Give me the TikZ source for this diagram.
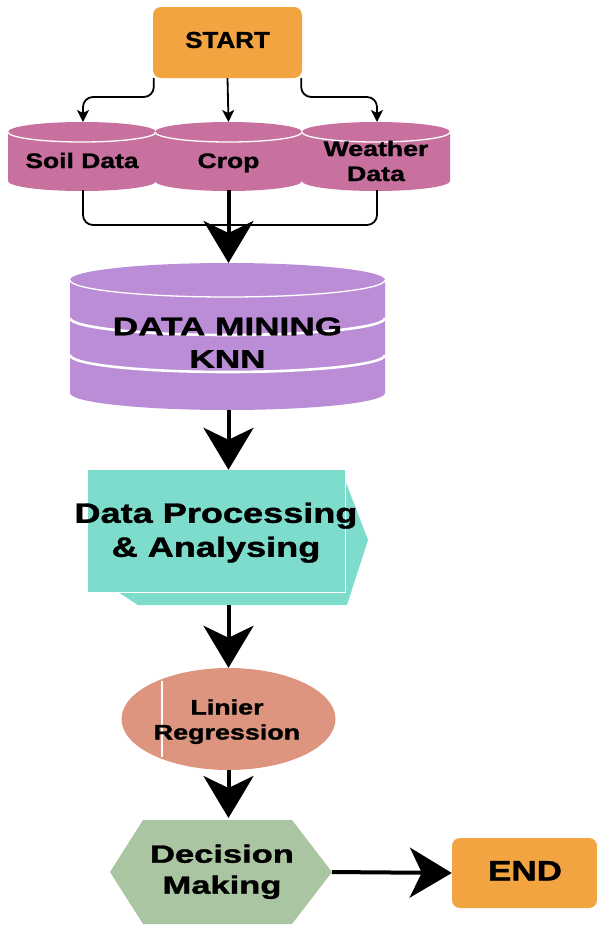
\documentclass[tikz,border=0pt]{standalone}
\usepackage{fontspec}
\setmainfont{Liberation Sans}[BoldFeatures={FakeBold=1.2}]
\usepackage{graphicx}
\usetikzlibrary{arrows.meta,shapes.geometric,calc}

\definecolor{termorange}{HTML}{F2A441}
\definecolor{sourcepink}{HTML}{C8709E}
\definecolor{minepurple}{HTML}{BB8DD7}
\definecolor{proccyan}{HTML}{7DDCCC}
\definecolor{regsalmon}{HTML}{DD9580}
\definecolor{decgreen}{HTML}{A9C5A1}

% widened bold label: xscale, font size, line skip, text
\newcommand{\lab}[4]{\scalebox{#1}[1]{\fontsize{#2}{#3}\selectfont\bfseries\begin{tabular}{@{}c@{}}#4\end{tabular}}}

% drum (cylinder) shape: x left, x right, top centre y, bottom centre y, y radius (pt), colour
\newcommand{\drum}[6]{%
  \pgfmathsetmacro\drumrx{(#2-#1)/2}%
  \fill[#6] (#1,#3) -- (#1,#4)
     arc[start angle=180,end angle=360,x radius=\drumrx pt,y radius=#5 pt]
     -- (#2,#3)
     arc[start angle=0,end angle=180,x radius=\drumrx pt,y radius=#5 pt] -- cycle;
  \draw[white,line width=1.3pt] (#1,#3)
     arc[start angle=180,end angle=360,x radius=\drumrx pt,y radius=#5 pt];
}

\tikzset{
  termbox/.style={rectangle, rounded corners=8pt, fill=termorange, inner sep=0pt},
  txt/.style={inner sep=0pt, text=black},
  link/.style={line width=1.8pt, rounded corners=10pt, -{Stealth[length=12pt,width=12pt,inset=3pt]}},
  joinline/.style={line width=1.8pt, rounded corners=10pt},
  bigarrow/.style={line width=4pt, -{Stealth[length=42pt,width=50pt,inset=12pt]}},
}

\begin{document}
\begin{tikzpicture}[x=1pt,y=-1pt]
\useasboundingbox (0,0) rectangle (597,927);

% ---- start
\node[termbox, minimum width=149pt, minimum height=71pt] (start) at (227.5,42.5) {};
\node[txt] (startlbl) at (227.5,42.5) {\lab{1.13}{23}{27}{START}};

% ---- data sources
\drum{8}{156}{132}{181}{10}{sourcepink}
\drum{155}{302}{132}{181}{10}{sourcepink}
\drum{302}{450}{132}{181}{10}{sourcepink}
\coordinate (soiltop) at (83,122);
\coordinate (croptop) at (228.5,122);
\coordinate (weathertop) at (377,122);
\coordinate (soilbot) at (83,190);
\coordinate (cropbot) at (228.5,190);
\coordinate (weatherbot) at (377,190);
\node[txt] (soil) at (82,163) {\lab{1.26}{21}{25}{Soil Data}};
\node[txt] (crop) at (228.5,163) {\lab{1.26}{21}{25}{Crop}};
\node[txt] (weather) at (376,163.5) {\lab{1.27}{21}{25}{Weather\\Data}};

% ---- data mining store
\drum{70}{385}{280}{393}{17}{minepurple}
\draw[white,line width=2.6pt] (70,318) arc[start angle=180,end angle=360,x radius=157.5pt,y radius=17pt];
\draw[white,line width=2.6pt] (70,355) arc[start angle=180,end angle=360,x radius=157.5pt,y radius=17pt];
\coordinate (dmtop) at (228.5,263);
\coordinate (dmbot) at (228.5,410);
\node[txt] (mining) at (227.5,345) {\lab{1.38}{25.5}{32.5}{DATA MINING\\KNN}};

% ---- processing block
\fill[proccyan] (118,480) -- (345,480) -- (368,540) -- (347,605) -- (138,605) -- (118,592) -- cycle;
\node[rectangle, fill=proccyan, inner sep=0pt, minimum width=257pt, minimum height=122pt] (proc) at (216.5,531) {};
\draw[white,line width=1.3pt] (proc.north east) -- (proc.south east) -- (proc.south west);
\coordinate (procbot) at (228.5,605);
\node[txt] (proclbl) at (216,533) {\lab{1.29}{28}{34}{Data Processing\\\& Analysing}};

% ---- regression
\node[ellipse, fill=regsalmon, inner sep=0pt, minimum width=214pt, minimum height=102pt] (reg) at (228.5,719) {};
\draw[white,line width=1.3pt] (162,681) -- (162,757);
\node[txt] (reglbl) at (227,722) {\lab{1.28}{21}{25}{Linier\\Regression}};

% ---- decision
\fill[decgreen] (110,872) -- (143,820) -- (292,820) -- (332,872) -- (292,924) -- (143,924) -- cycle;
\coordinate (dectop) at (226,818);
\coordinate (decright) at (332,872);
\node[txt] (declbl) at (222,872) {\lab{1.38}{25}{31}{Decision\\Making}};

% ---- end
\node[termbox, minimum width=145pt, minimum height=70pt] (end) at (524.5,873) {};
\node[txt] (endlbl) at (525,874) {\lab{1.25}{28}{32}{END}};

% ---- connectors
\coordinate (fork) at (0,97);
\coordinate (merge) at (0,225);
\draw[link] ([xshift=1pt]start.south west) -- ([xshift=1pt]start.south west |- fork) -- (soiltop |- fork) -- (soiltop);
\draw[link] (start.south) -- (croptop);
\draw[link] ([xshift=-1pt]start.south east) -- ([xshift=-1pt]start.south east |- fork) -- (weathertop |- fork) -- (weathertop);

\draw[joinline] (soilbot) -- (soilbot |- merge) -- (cropbot |- merge);
\draw[joinline] (weatherbot) -- (weatherbot |- merge) -- (cropbot |- merge);
\draw[bigarrow] (cropbot) -- (dmtop);

\draw[bigarrow] (dmbot) -- (dmbot |- proc.north);
\draw[bigarrow] (procbot) -- (reg.north);
\draw[bigarrow] (reg.south) -- (reg.south |- dectop);
\draw[bigarrow] (decright) -- (end.west);
\end{tikzpicture}
\end{document}
